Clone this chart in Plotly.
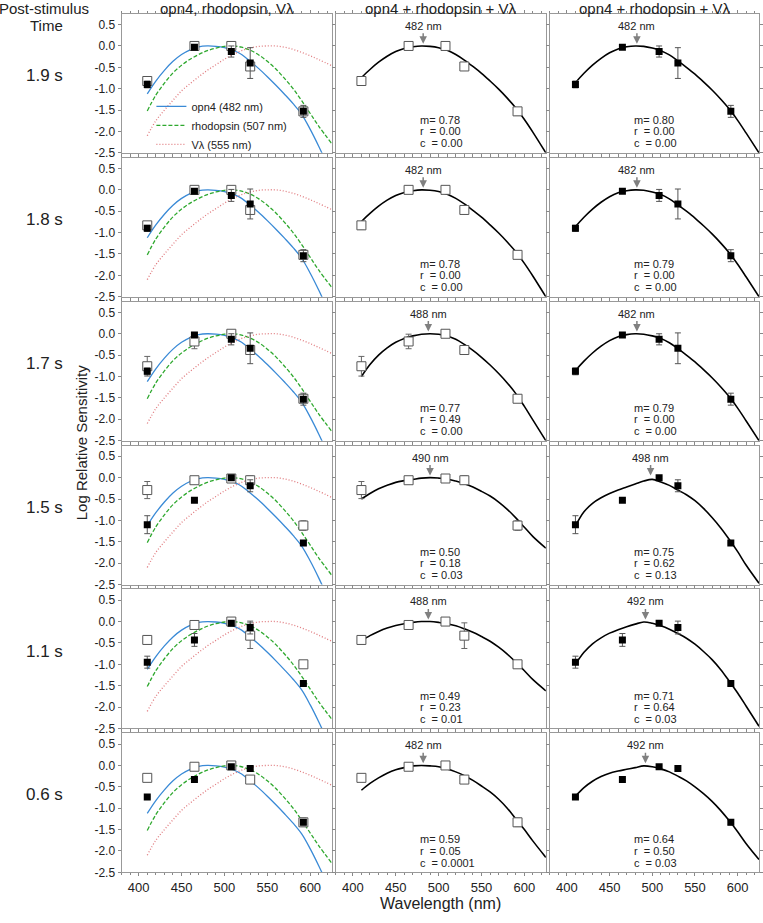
import plotly.graph_objects as go
from plotly.subplots import make_subplots

# rows (post-stimulus time) and LED wavelengths
times = ["1.9 s", "1.8 s", "1.7 s", "1.5 s", "1.1 s", "0.6 s"]
led_nm = [410, 465, 508, 530, 592]

# open squares (middle column) and filled squares (right column), mean +/- error
open_19 = [-0.82, 0.0, 0.0, -0.48, -1.53]
open_19_err = [0.08, 0.04, 0.04, 0.08, 0.09]
open_18 = [-0.83, 0.0, 0.0, -0.47, -1.52]
open_18_err = [0.09, 0.04, 0.05, 0.09, 0.09]
open_17 = [-0.76, -0.18, 0.0, -0.38, -1.52]
open_17_err = [0.23, 0.17, 0.05, 0.04, 0.09]
open_15 = [-0.29, -0.06, -0.02, -0.06, -1.12]
open_15_err = [0.2, 0.03, 0.04, 0.1, 0.11]
open_11 = [-0.43, -0.08, 0.0, -0.33, -1.0]
open_11_err = [0.1, 0.03, 0.04, 0.3, 0.02]
open_06 = [-0.29, -0.03, 0.0, -0.33, -1.33]
open_06_err = [0.03, 0.02, 0.04, 0.08, 0.1]

filled_19 = [-0.9, -0.03, -0.13, -0.4, -1.53]
filled_19_err = [0.08, 0.02, 0.13, 0.36, 0.14]
filled_18 = [-0.9, -0.03, -0.13, -0.33, -1.54]
filled_18_err = [0.07, 0.02, 0.14, 0.35, 0.14]
filled_17 = [-0.88, -0.03, -0.13, -0.34, -1.53]
filled_17_err = [0.08, 0.02, 0.13, 0.36, 0.14]
filled_15 = [-1.1, -0.53, 0.0, -0.19, -1.53]
filled_15_err = [0.21, 0.0, 0.02, 0.14, 0.02]
filled_11 = [-0.95, -0.43, -0.04, -0.14, -1.45]
filled_11_err = [0.14, 0.15, 0.03, 0.15, 0.05]
filled_06 = [-0.74, -0.33, -0.03, -0.07, -1.33]
filled_06_err = [0.02, 0.02, 0.02, 0.02, 0.06]

# template / fit curves
curve_nm = [410, 420, 430, 440, 450, 460, 470, 480, 490, 500, 510,
            520, 530, 540, 550, 560, 570, 580, 590, 600, 610, 625]
opn4_curve = [-1.12, -0.82, -0.57, -0.36, -0.2, -0.09, -0.02, 0.0, -0.01, -0.04, -0.1,
              -0.2, -0.36, -0.53, -0.72, -0.92, -1.13, -1.35, -1.6, -1.95, -2.35, -3.0]
rho_curve = [-1.52, -1.15, -0.87, -0.63, -0.45, -0.31, -0.2, -0.11, -0.05, -0.01, 0.0,
             -0.03, -0.1, -0.21, -0.36, -0.54, -0.76, -1.0, -1.28, -1.58, -1.88, -2.28]
vlam_curve = [-2.1, -1.75, -1.5, -1.27, -1.05, -0.88, -0.72, -0.57, -0.44, -0.31, -0.2,
              -0.11, -0.05, -0.01, 0.0, 0.0, -0.03, -0.08, -0.15, -0.23, -0.32, -0.46]

fit_open_19 = [-0.74, -0.55, -0.38, -0.24, -0.13, -0.06, -0.02, 0.0, -0.01, -0.04, -0.1,
               -0.2, -0.33, -0.48, -0.64, -0.82, -1.01, -1.22, -1.45, -1.72, -2.02, -2.5]
fit_open_18 = [-0.74, -0.55, -0.38, -0.24, -0.13, -0.06, -0.02, 0.0, -0.01, -0.04, -0.1,
               -0.2, -0.33, -0.48, -0.64, -0.82, -1.01, -1.22, -1.45, -1.72, -2.02, -2.5]
fit_open_17 = [-1.0, -0.72, -0.5, -0.33, -0.2, -0.11, -0.05, -0.01, 0.0, -0.01, -0.05,
               -0.13, -0.25, -0.39, -0.55, -0.73, -0.93, -1.15, -1.4, -1.7, -2.02, -2.5]
fit_open_15 = [-0.5, -0.37, -0.26, -0.18, -0.11, -0.07, -0.04, -0.01, 0.0, -0.01, -0.03,
               -0.08, -0.14, -0.22, -0.32, -0.43, -0.57, -0.74, -0.94, -1.16, -1.38, -1.65]
fit_open_11 = [-0.45, -0.33, -0.23, -0.15, -0.09, -0.05, -0.02, 0.0, 0.0, -0.02, -0.05,
               -0.1, -0.17, -0.25, -0.35, -0.46, -0.6, -0.76, -0.95, -1.15, -1.36, -1.62]
fit_open_06 = [-0.58, -0.42, -0.29, -0.18, -0.1, -0.05, -0.01, 0.0, -0.01, -0.03, -0.08,
               -0.15, -0.24, -0.35, -0.48, -0.62, -0.79, -1.0, -1.25, -1.5, -1.77, -2.15]

fit_filled_19 = [-0.86, -0.64, -0.45, -0.29, -0.16, -0.07, -0.02, 0.0, -0.01, -0.05, -0.11,
                 -0.21, -0.35, -0.5, -0.66, -0.84, -1.03, -1.24, -1.47, -1.74, -2.04, -2.5]
fit_filled_18 = [-0.86, -0.64, -0.45, -0.29, -0.16, -0.07, -0.02, 0.0, -0.01, -0.05, -0.11,
                 -0.21, -0.35, -0.5, -0.66, -0.84, -1.03, -1.24, -1.47, -1.74, -2.04, -2.5]
fit_filled_17 = [-0.86, -0.64, -0.45, -0.29, -0.16, -0.07, -0.02, 0.0, -0.01, -0.05, -0.11,
                 -0.21, -0.35, -0.5, -0.66, -0.84, -1.03, -1.24, -1.47, -1.74, -2.04, -2.5]
fit_filled_15 = [-1.13, -0.8, -0.6, -0.47, -0.37, -0.29, -0.22, -0.15, -0.08, -0.04, -0.1,
                 -0.18, -0.29, -0.4, -0.54, -0.72, -0.93, -1.17, -1.44, -1.73, -2.05, -2.47]
fit_filled_11 = [-1.0, -0.72, -0.52, -0.38, -0.27, -0.19, -0.12, -0.06, -0.01, -0.04, -0.1,
                 -0.18, -0.28, -0.39, -0.53, -0.7, -0.89, -1.12, -1.39, -1.67, -1.98, -2.45]
fit_filled_06 = [-0.72, -0.52, -0.37, -0.26, -0.18, -0.13, -0.09, -0.05, -0.01, -0.03, -0.08,
                 -0.15, -0.25, -0.36, -0.5, -0.66, -0.84, -1.05, -1.29, -1.55, -1.83, -2.2]

peak_open = [482, 482, 488, 490, 488, 482]
peak_filled = [482, 482, 482, 498, 492, 492]
m_open = ["0.78", "0.78", "0.77", "0.50", "0.49", "0.59"]
r_open = ["0.00", "0.00", "0.49", "0.18", "0.23", "0.05"]
c_open = ["0.00", "0.00", "0.00", "0.03", "0.01", "0.0001"]
m_filled = ["0.80", "0.79", "0.79", "0.75", "0.71", "0.64"]
r_filled = ["0.00", "0.00", "0.00", "0.62", "0.64", "0.50"]
c_filled = ["0.00", "0.00", "0.00", "0.13", "0.03", "0.03"]

x_ticks = [400, 450, 500, 550, 600]
y_ticks = [-2.5, -2.0, -1.5, -1.0, -0.5, 0.0, 0.5]
y_ticktext = ["-2.5", "-2.0", "-1.5", "-1.0", "-0.5", "0.0", "0.5"]

open_rows = [open_19, open_18, open_17, open_15, open_11, open_06]
open_errs = [open_19_err, open_18_err, open_17_err, open_15_err, open_11_err, open_06_err]
filled_rows = [filled_19, filled_18, filled_17, filled_15, filled_11, filled_06]
filled_errs = [filled_19_err, filled_18_err, filled_17_err, filled_15_err, filled_11_err, filled_06_err]
fit_open = [fit_open_19, fit_open_18, fit_open_17, fit_open_15, fit_open_11, fit_open_06]
fit_filled = [fit_filled_19, fit_filled_18, fit_filled_17, fit_filled_15, fit_filled_11, fit_filled_06]

W, H = 763, 923
FONT = "Liberation Sans, Arial, sans-serif"
col_px = [(122, 333), (337, 548), (552, 762)]
row_top, row_h, row_pitch = 14, 140, 145

fig = make_subplots(rows=6, cols=3)


def open_sq(x, y, err, showlegend=False):
    return go.Scatter(x=x, y=y, mode="markers", showlegend=showlegend,
                      marker=dict(symbol="square", size=9, color="white",
                                  line=dict(color="#555555", width=1)),
                      error_y=dict(type="data", array=err, color="#666666",
                                   thickness=1, width=3))


def filled_sq(x, y, err):
    return go.Scatter(x=x, y=y, mode="markers", showlegend=False,
                      marker=dict(symbol="square", size=7, color="black"),
                      error_y=dict(type="data", array=err, color="#555555",
                                   thickness=1, width=3))


def paper_text(x, y, text, size, **kw):
    fig.add_annotation(x=x / W, y=1 - y / H, xref="paper", yref="paper", text=text,
                       showarrow=False, xanchor="center", yanchor="middle",
                       font=dict(size=size, color="#222", family=FONT), **kw)


for i in range(6):
    r = i + 1
    # column 1: templates + both data sets
    fig.add_trace(go.Scatter(x=curve_nm, y=opn4_curve, mode="lines", name="opn4 (482 nm)",
                             line=dict(color="#3a8ad6", width=1.3, shape="spline"),
                             showlegend=(i == 0), legendrank=1), row=r, col=1)
    fig.add_trace(go.Scatter(x=curve_nm, y=rho_curve, mode="lines", name="rhodopsin (507 nm)",
                             line=dict(color="#2ea82e", width=1.3, dash="4px,2px", shape="spline"),
                             showlegend=(i == 0), legendrank=2), row=r, col=1)
    fig.add_trace(go.Scatter(x=curve_nm, y=vlam_curve, mode="lines", name="V\u03bb (555 nm)",
                             line=dict(color="#e07a7e", width=1.3, dash="1px,2px", shape="spline"),
                             showlegend=(i == 0), legendrank=3), row=r, col=1)
    fig.add_trace(open_sq(led_nm, open_rows[i], open_errs[i]), row=r, col=1)
    fig.add_trace(filled_sq(led_nm, filled_rows[i], filled_errs[i]), row=r, col=1)

    # column 2: open squares with fit
    fig.add_trace(go.Scatter(x=curve_nm, y=fit_open[i], mode="lines", showlegend=False,
                             line=dict(color="black", width=1.6, shape="spline")), row=r, col=2)
    fig.add_trace(open_sq(led_nm, open_rows[i], open_errs[i]), row=r, col=2)

    # column 3: filled squares with fit
    fig.add_trace(go.Scatter(x=curve_nm, y=fit_filled[i], mode="lines", showlegend=False,
                             line=dict(color="black", width=1.6, shape="spline")), row=r, col=3)
    fig.add_trace(filled_sq(led_nm, filled_rows[i], filled_errs[i]), row=r, col=3)

    for c, peak, m, rr, cc in [(2, peak_open[i], m_open[i], r_open[i], c_open[i]),
                               (3, peak_filled[i], m_filled[i], r_filled[i], c_filled[i])]:
        idx = i * 3 + c
        xr = "x" if idx == 1 else f"x{idx}"
        yr = "y" if idx == 1 else f"y{idx}"
        fig.add_annotation(x=peak, y=0.05, xref=xr, yref=yr, text=f"{peak} nm",
                           showarrow=True, ax=0, ay=-18, arrowhead=2, arrowsize=1,
                           arrowwidth=1.5, arrowcolor="#808080",
                           font=dict(size=11, color="#222", family=FONT))
        for k, t in enumerate([f"m= {m}", f"r\u00a0\u00a0= {rr}", f"c\u00a0\u00a0= {cc}"]):
            fig.add_annotation(x=476, y=-1.73 - 0.27 * k, xref=xr, yref=yr, text=t,
                               showarrow=False, xanchor="left",
                               font=dict(size=11, color="#222", family=FONT))

    # row label
    top = row_top + i * row_pitch
    paper_text(45, top + 62, times[i], 17)

    for c in range(3):
        x0, x1 = col_px[c]
        fig.update_xaxes(domain=[x0 / W, x1 / W], row=r, col=c + 1)
        fig.update_yaxes(domain=[1 - (top + row_h) / H, 1 - top / H], row=r, col=c + 1)
        fig.update_xaxes(showticklabels=(i == 5), row=r, col=c + 1)
        fig.update_yaxes(showticklabels=(c == 0), row=r, col=c + 1)

fig.update_xaxes(range=[380, 625], tickvals=x_ticks, ticks="outside", ticklen=3,
                 tickcolor="#888", mirror="allticks", showline=True, linecolor="#999",
                 linewidth=1, showgrid=False, zeroline=False,
                 minor=dict(dtick=10, ticks="outside", ticklen=2, tickcolor="#888"),
                 tickfont=dict(size=13, color="#222", family=FONT))
fig.update_yaxes(range=[-2.5, 0.75], tickvals=y_ticks, ticktext=y_ticktext, ticks="outside",
                 ticklen=3, tickcolor="#888", mirror="allticks", showline=True,
                 linecolor="#999", linewidth=1, showgrid=False, zeroline=False,
                 tickfont=dict(size=12, color="#222", family=FONT))

# column titles and side labels
titles = ["opn4, rhodopsin, V\u03bb", "opn4 + rhodopsin + V\u03bb", "opn4 + rhodopsin + V\u03bb"]
for c in range(3):
    x0, x1 = col_px[c]
    paper_text((x0 + x1) / 2, 9, titles[c], 15)
paper_text(44, 9, "Post-stimulus", 15)
paper_text(47, 26, "Time", 15)
paper_text(82, 446, "Log Relative Sensitivity", 15, textangle=-90)
paper_text(442, 910, "Wavelength (nm)", 16)

fig.update_layout(width=W, height=H, margin=dict(l=0, r=0, t=0, b=0),
                  plot_bgcolor="white", paper_bgcolor="white",
                  legend=dict(x=152 / W, y=1 - 160 / H, xanchor="left", yanchor="bottom",
                              bgcolor="rgba(0,0,0,0)", font=dict(size=11, color="#222", family=FONT),
                              itemwidth=30, tracegroupgap=0))

fig.write_html("out.html", config={"displayModeBar": False},
               post_script="document.body.style.margin='0px';")
